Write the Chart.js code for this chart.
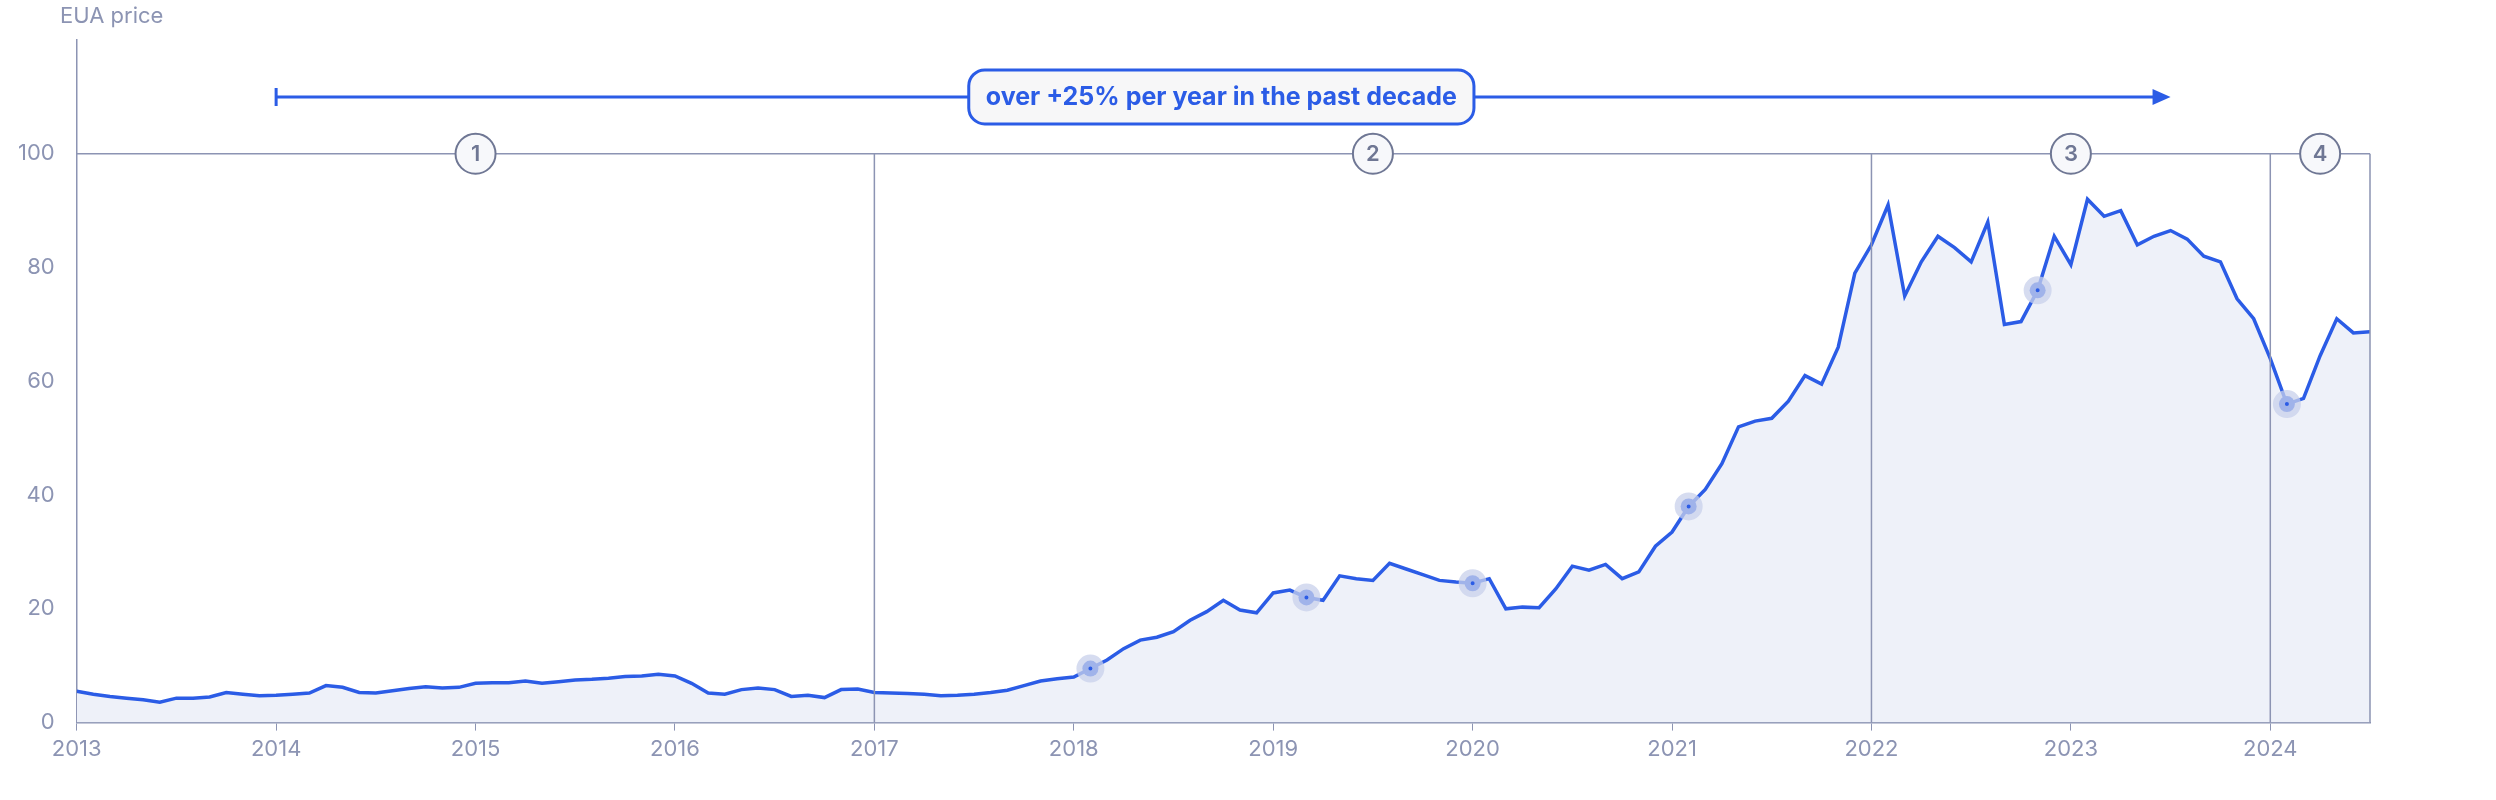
<!DOCTYPE html>
<html>
<head>
<meta charset="utf-8">
<script src="https://cdn.jsdelivr.net/npm/chart.js@4/dist/chart.umd.min.js"></script>
<style>
  body { margin: 0; background: #fff; }
  #wrap { width: 2496px; height: 800px; }
</style>
</head>
<body>
<div id="wrap"><canvas id="chart"></canvas></div>
<script>
// monthly EUA price, Jan 2013 .. Jul 2024
const startYear = 2013;
const prices = [
  5.5, 5, 4.6, 4.3, 4, 3.6, 4.3, 4.3, 4.5, 5.3, 5, 4.7,
  4.8, 5, 5.2, 6.5, 6.2, 5.3, 5.2, 5.6, 6, 6.3, 6.1, 6.2,
  6.9, 7, 7, 7.3, 6.9, 7.2, 7.5, 7.6, 7.8, 8.1, 8.2, 8.5,
  8.2, 6.9, 5.2, 5, 5.8, 6.1, 5.8, 4.6, 4.8, 4.4, 5.8, 5.9,
  5.3, 5.2, 5.1, 5, 4.7, 4.8, 5, 5.3, 5.7, 6.5, 7.3, 7.7,
  8, 9.5, 11, 13, 14.5, 15, 16, 18, 19.5, 21.5, 19.8, 19.3,
  22.8, 23.3, 22, 21.5, 25.8, 25.3, 25, 28, 27, 26, 25, 24.7,
  24.5, 25.3, 20, 20.3, 20.2, 23.5, 27.5, 26.8, 27.8, 25.3, 26.5, 31,
  33.5, 38, 41, 45.5, 52, 53, 53.5, 56.5, 61, 59.5, 66, 79,
  84, 91, 75, 81, 85.5, 83.5, 81, 88, 70, 70.5, 76, 85.5,
  80.5, 92, 89, 90, 84, 85.5, 86.5, 85, 82, 81, 74.5, 71,
  64, 56, 57, 64.5, 71, 68.5, 68.7
];
const highlightIdx = [61, 74, 84, 97, 118, 133];
const yearTicks = [2013, 2014, 2015, 2016, 2017, 2018, 2019, 2020, 2021, 2022, 2023, 2024];
const phaseBounds = [2013, 2017, 2022, 2024, 2024.5];
const phaseLabels = ['1', '2', '3', '4'];
const phaseTop = 100;
const arrowFrom = 2014, arrowTo = 2023.5, arrowY = 110;
const arrowText = 'over +25% per year in the past decade';
const yTitle = 'EUA price';

const blue = '#2b5ce6';
const gray = '#8c94b3';
const font = 'Inter, "Noto Sans", sans-serif';

const points = prices.map((v, i) => ({ x: startYear + i / 12, y: v }));
const highlights = highlightIdx.map(i => points[i]);

const annotations = {
  id: 'annotations',
  afterDatasetsDraw(chart) {
    const { ctx, scales: { x, y } } = chart;
    ctx.save();
    // phase lines
    ctx.strokeStyle = gray;
    ctx.lineWidth = 1.5;
    const yTop = y.getPixelForValue(phaseTop), y0 = y.getPixelForValue(0);
    ctx.beginPath();
    ctx.moveTo(x.getPixelForValue(phaseBounds[0]), yTop);
    ctx.lineTo(x.getPixelForValue(phaseBounds[phaseBounds.length - 1]), yTop);
    phaseBounds.slice(1).forEach(b => {
      const px = x.getPixelForValue(b);
      ctx.moveTo(px, yTop); ctx.lineTo(px, y0);
    });
    ctx.stroke();
    // numbered circles
    ctx.font = '600 22px ' + font;
    ctx.textAlign = 'center';
    ctx.textBaseline = 'middle';
    phaseLabels.forEach((t, i) => {
      const cx = x.getPixelForValue((phaseBounds[i] + phaseBounds[i + 1]) / 2);
      ctx.beginPath();
      ctx.arc(cx, yTop, 20, 0, Math.PI * 2);
      ctx.fillStyle = '#f7f8fb';
      ctx.fill();
      ctx.lineWidth = 2;
      ctx.strokeStyle = '#6f7794';
      ctx.stroke();
      ctx.fillStyle = '#6f7794';
      ctx.fillText(t, cx, yTop + 1);
    });
    // arrow
    const ay = y.getPixelForValue(arrowY);
    const ax1 = x.getPixelForValue(arrowFrom), ax2 = x.getPixelForValue(arrowTo);
    ctx.strokeStyle = blue;
    ctx.fillStyle = blue;
    ctx.lineWidth = 3;
    ctx.beginPath();
    ctx.moveTo(ax1, ay); ctx.lineTo(ax2 - 14, ay);
    ctx.moveTo(ax1, ay - 9); ctx.lineTo(ax1, ay + 9);
    ctx.stroke();
    ctx.beginPath();
    ctx.moveTo(ax2, ay); ctx.lineTo(ax2 - 18, ay - 8); ctx.lineTo(ax2 - 18, ay + 8);
    ctx.closePath(); ctx.fill();
    // label box
    ctx.font = 'bold 25px ' + font;
    const tw = ctx.measureText(arrowText).width;
    const cx = (ax1 + ax2) / 2 - 2;
    const bw = tw + 34, bh = 54;
    ctx.beginPath();
    ctx.roundRect(cx - bw / 2, ay - bh / 2, bw, bh, 16);
    ctx.fillStyle = '#f7f7f8';
    ctx.fill();
    ctx.lineWidth = 3;
    ctx.stroke();
    ctx.fillStyle = blue;
    ctx.fillText(arrowText, cx, ay + 1);
    // y title
    ctx.font = '22px ' + font;
    ctx.fillStyle = gray;
    ctx.textAlign = 'left';
    ctx.fillText(yTitle, 60, 16);
    ctx.restore();
  }
};

new Chart(document.getElementById('chart'), {
  type: 'line',
  data: {
    datasets: [
      {
        data: highlights,
        showLine: false,
        pointRadius: 8,
        pointBackgroundColor: blue,
        pointBorderColor: 'rgba(200, 208, 235, 0.75)',
        pointBorderWidth: 12,
        order: 0
      },
      {
        data: points,
        borderColor: blue,
        borderWidth: 3.5,
        backgroundColor: '#eef1f9',
        fill: 'origin',
        pointRadius: 0,
        tension: 0,
        order: 1
      }
    ]
  },
  plugins: [annotations],
  options: {
    responsive: true,
    maintainAspectRatio: false,
    devicePixelRatio: 1,
    animation: false,
    layout: { padding: { left: 4, right: 126, top: 40, bottom: 31 } },
    plugins: { legend: { display: false }, tooltip: { enabled: false } },
    scales: {
      x: {
        type: 'linear',
        min: 2013,
        max: 2024.5,
        afterBuildTicks: s => { s.ticks = yearTicks.map(v => ({ value: v })); },
        ticks: { color: gray, font: { size: 22, family: font }, padding: 6, callback: v => String(v) },
        grid: { drawOnChartArea: false, color: gray, tickLength: 8 },
        border: { color: gray, width: 1.5 }
      },
      y: {
        min: 0,
        max: 120,
        afterBuildTicks: s => { s.ticks = [0, 20, 40, 60, 80, 100].map(v => ({ value: v })); },
        ticks: { color: gray, font: { size: 22, family: font }, padding: 14 },
        grid: { display: false },
        border: { color: gray, width: 1.5 }
      }
    }
  }
});
</script>
</body>
</html>
